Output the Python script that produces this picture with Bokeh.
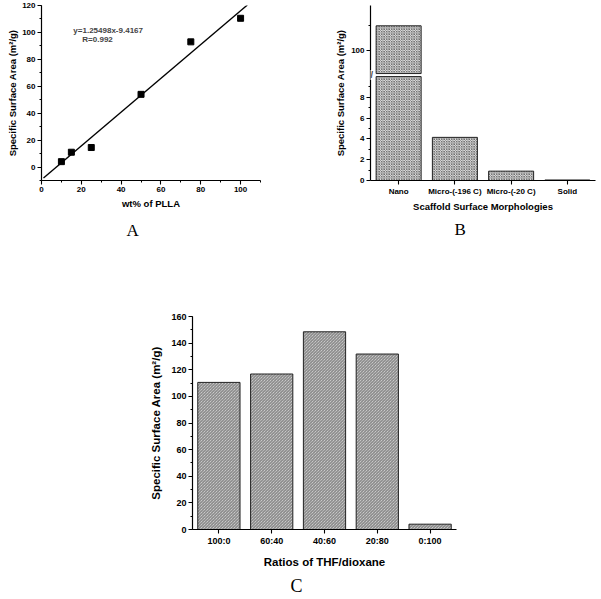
import numpy as np
from bokeh.plotting import figure
from bokeh.models import (Range1d, FactorRange, SingleIntervalTicker, FixedTicker,
                          Label, Title, CustomJSTickFormatter)
from bokeh.layouts import column, row
from bokeh.embed import file_html
from bokeh.resources import INLINE

# ---------------- data ----------------
# Panel A
wt_plla = [10, 15, 25, 50, 75, 100]
area_a = [4.0, 11.0, 14.5, 54.0, 93.0, 110.5]
fit_slope = 1.25498
fit_intercept = -9.4167
fit_x = [1.0, 103.4]

# Panel B
morph = ["Nano", "Micro-(-196 C)", "Micro-(-20 C)", "Solid"]
area_b = [110.0, 4.15, 0.9, 0.05]

# Panel C
ratios = ["100:0", "60:40", "40:60", "20:80", "0:100"]
area_c = [110.5, 116.8, 148.5, 131.8, 4.0]

SANS = "Liberation Sans"
SERIF = "Liberation Serif"
YLABEL = "Specific Surface Area (m\u00b2/g)"


def style_axis(ax, tick_size, label_size, label_standoff=4, tick_standoff=2):
    ax.axis_line_width = 1.2
    ax.axis_line_color = "black"
    ax.major_tick_out = 4
    ax.major_tick_in = 0
    ax.minor_tick_out = 2
    ax.minor_tick_in = 0
    ax.major_tick_line_width = 1.1
    ax.minor_tick_line_width = 1
    ax.major_label_text_font = SANS
    ax.major_label_text_font_style = "bold"
    ax.major_label_text_font_size = f"{tick_size}px"
    ax.major_label_text_color = "black"
    ax.axis_label_text_font = SANS
    ax.axis_label_text_font_style = "bold"
    ax.axis_label_text_font_size = f"{label_size}px"
    ax.axis_label_text_color = "black"
    ax.major_label_standoff = tick_standoff
    ax.axis_label_standoff = label_standoff


def base(p):
    p.outline_line_color = None
    p.grid.visible = False
    p.background_fill_color = "white"
    p.border_fill_color = "white"


def letter(p, txt, offset, size, standoff):
    p.add_layout(Title(text=txt, align="left", offset=offset, text_font=SERIF,
                       text_font_size=f"{size}px", text_font_style="normal",
                       text_color="black", standoff=standoff), "below")


# ---------------- Panel A ----------------
pa = figure(width=300, height=249, x_range=Range1d(0, 110), y_range=Range1d(-10, 120),
            output_backend="svg", toolbar_location=None,
            min_border_left=41, min_border_right=40, min_border_top=5, min_border_bottom=69)
base(pa)
pa.xaxis.ticker = SingleIntervalTicker(interval=20, num_minor_ticks=2)
pa.yaxis.ticker = SingleIntervalTicker(interval=20, num_minor_ticks=2)
pa.xaxis.axis_label = "wt% of PLLA"
pa.yaxis.axis_label = YLABEL
style_axis(pa.xaxis[0], 8, 9.5, label_standoff=3)
style_axis(pa.yaxis[0], 8, 9.5, label_standoff=1)
fit_y = [fit_slope * x + fit_intercept for x in fit_x]
pa.line(fit_x, fit_y, line_color="black", line_width=1.4)
pa.scatter(wt_plla, area_a, marker="square", size=6, fill_color="black", line_color="black")
pa.add_layout(Label(x=16, y=101.7, text="y=1.25498x-9.4167", text_font=SANS,
                    text_font_style="bold", text_font_size="8px", text_baseline="middle"))
pa.add_layout(Label(x=20.5, y=94.6, text="R=0.992", text_font=SANS,
                    text_font_style="bold", text_font_size="8px", text_baseline="middle"))
letter(pa, "A", 85, 17, 14)

# ---------------- Panel B (broken axis) ----------------
lo_top = 10.0      # top of lower segment
hi_bottom = 91.0   # bottom of upper segment
lower_rng = Range1d(0, 16.84)
upper_rng = Range1d(48.46, 118.08)


def to_lower(v):
    return lower_rng.end * (v - upper_rng.start) / (upper_rng.end - upper_rng.start)


pb = figure(width=300, height=249, x_range=FactorRange(factors=morph, range_padding=0),
            y_range=lower_rng, output_backend="svg", toolbar_location=None,
            min_border_left=70, min_border_right=5, min_border_top=5, min_border_bottom=63)
base(pb)
pb.extra_y_ranges = {"upper": upper_rng}
vals_b = np.array(area_b)
hatch_b = dict(fill_color="#e2e2e2", hatch_pattern="diagonal_cross", hatch_color="#555555",
               hatch_scale=2.5, hatch_weight=0.7, line_color="#222222", line_width=1)
pb.vbar(x=morph, top=np.minimum(vals_b, lo_top), width=0.8, **hatch_b)
mask = vals_b > hi_bottom
pb.vbar(x=[m for m, k in zip(morph, mask) if k], bottom=hi_bottom, top=vals_b[mask],
        width=0.8, y_range_name="upper", **hatch_b)
pb.yaxis.ticker = FixedTicker(ticks=[0, 2, 4, 6, 8, to_lower(100)],
                              minor_ticks=[1, 3, 5, 7, 9, to_lower(110)])
pb.yaxis.formatter = CustomJSTickFormatter(
    args=dict(lo=lower_rng.end, us=upper_rng.start, ue=upper_rng.end, brk=lo_top + 0.5),
    code="if (tick > brk) { return (us + tick*(ue-us)/lo).toFixed(0) } return tick.toFixed(0)")
pb.xaxis.axis_label = "Scaffold Surface Morphologies"
pb.yaxis.axis_label = YLABEL
style_axis(pb.xaxis[0], 8, 9.5, label_standoff=2)
style_axis(pb.yaxis[0], 8, 9.5, label_standoff=2)
pb.add_layout(Label(x=0, y=(lo_top + to_lower(hi_bottom)) / 2, text="//", text_font=SANS,
                    text_font_style="bold", text_font_size="9px", text_align="center",
                    text_baseline="middle", background_fill_color="white"))
letter(pb, "B", 84, 17, 6)

# ---------------- Panel C ----------------
pc = figure(width=600, height=350, x_range=FactorRange(factors=ratios, range_padding=0),
            y_range=Range1d(0, 160), output_backend="svg", toolbar_location=None,
            min_border_left=192, min_border_right=144, min_border_top=67, min_border_bottom=70)
base(pc)
pc.vbar(x=ratios, top=area_c, width=0.8, fill_color="#e6e6e6",
        hatch_pattern="left_diagonal_line", hatch_color="#444444", hatch_scale=3,
        hatch_weight=0.7, line_color="#222222", line_width=1)
pc.yaxis.ticker = SingleIntervalTicker(interval=20, num_minor_ticks=2)
pc.xaxis.axis_label = "Ratios of THF/dioxane"
pc.yaxis.axis_label = YLABEL
style_axis(pc.xaxis[0], 9, 11.5, label_standoff=7)
style_axis(pc.yaxis[0], 9, 11.5, label_standoff=6)
letter(pc, "C", 98, 18, 7)

root = column(row(pa, pb), pc)
open("out.html", "w").write(file_html(root, INLINE))
